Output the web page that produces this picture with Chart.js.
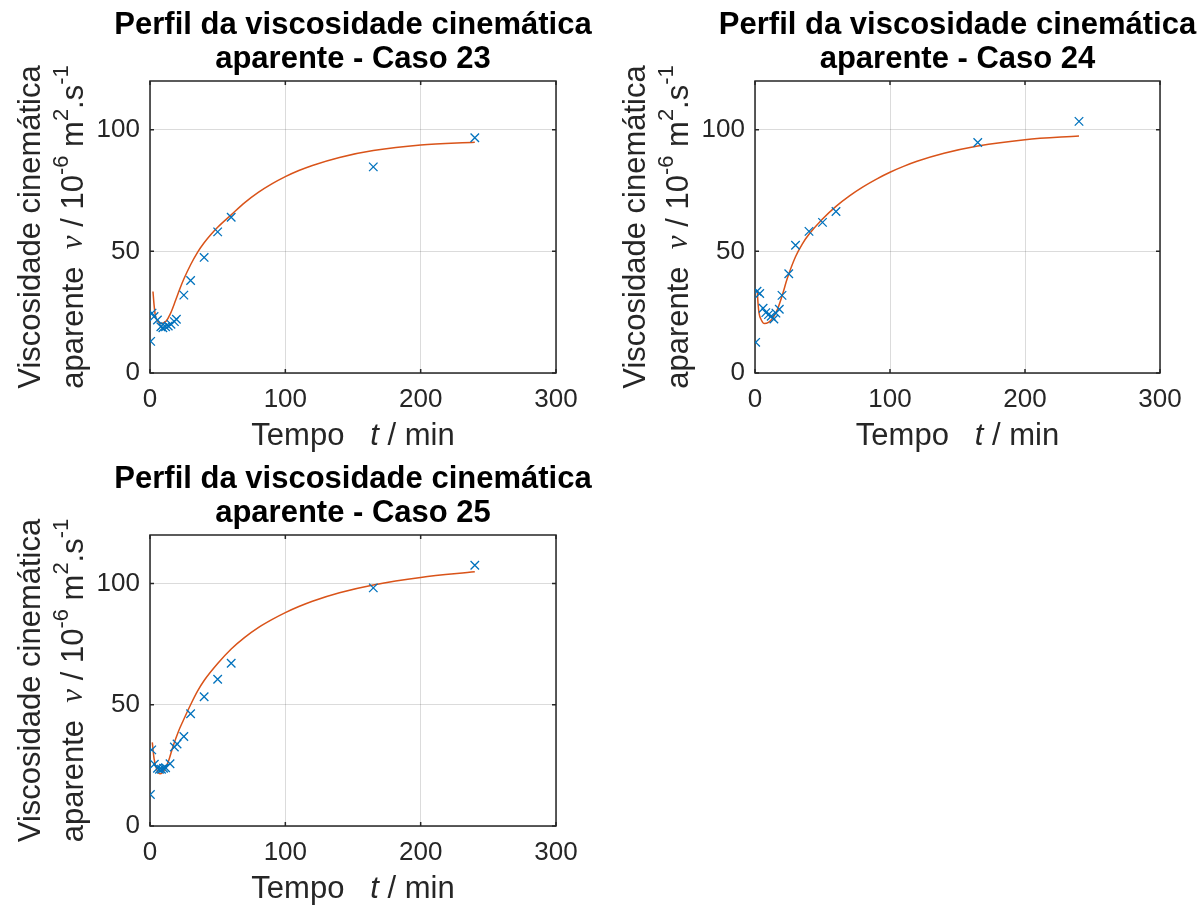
<!DOCTYPE html>
<html>
<head>
<meta charset="utf-8">
<script src="https://cdn.jsdelivr.net/npm/chart.js@4.4.0/dist/chart.umd.min.js"></script>
<style>
  body { margin: 0; background: #fff; width: 1204px; height: 905px; overflow: hidden; position: relative; }
  .box { position: absolute; }
</style>
</head>
<body>
<div class="box" style="left:0;top:0"><canvas id="c23" width="600" height="455"></canvas></div>
<div class="box" style="left:605px;top:0"><canvas id="c24" width="599" height="455"></canvas></div>
<div class="box" style="left:0;top:455px"><canvas id="c25" width="600" height="450"></canvas></div>
<script>
// eixos
const xTicks = [0, 100, 200, 300];
const yTicks = [0, 50, 100];

// Caso 23 - pontos experimentais
const t23 = [0.5, 1.5, 3, 5.5, 8, 9.5, 11.5, 13.5, 15.5, 18, 19.5, 25, 30, 40, 50, 60, 165, 240];
const v23 = [13, 24.6, 23.2, 21.8, 19, 18.6, 19, 19.3, 20, 21.1, 22.1, 32, 38, 47.5, 58, 64, 84.7, 96.7];
// Caso 23 - curva ajustada
const fitT23 = [2.2, 3, 4, 6, 8, 10, 12, 15, 19, 22, 25, 30, 35, 40, 45, 50, 60, 70, 80, 90, 100, 110, 120, 140, 165, 200, 240];
const fitV23 = [33.5, 28, 23.5, 21.1, 20.3, 20.6, 21.4, 24.3, 30, 34.5, 38.6, 44.5, 49.5, 53.5, 56.9, 59.9, 65, 70, 74.2, 77.7, 80.7, 83.2, 85.3, 88.6, 91.4, 93.7, 94.8];

// Caso 24
const t24 = [0.5, 1.5, 3.5, 6, 8, 10, 12, 14, 15.5, 18, 20, 25, 30, 40, 50, 60, 165, 240];
const v24 = [12.6, 33.6, 32.7, 26.6, 24.8, 24, 23.3, 22.2, 24.6, 26.2, 31.9, 40.8, 52.5, 58.2, 61.9, 66.4, 94.7, 103.4];
const fitT24 = [1.7, 2.2, 3, 4.5, 7, 10, 13, 16.5, 20, 24, 30, 35, 40, 50, 60, 70, 80, 90, 100, 110, 120, 140, 165, 200, 240];
const fitV24 = [34, 29, 24.6, 22, 20.3, 20.8, 22.4, 26, 31.6, 39, 47.8, 53, 57, 63.3, 68.5, 72.8, 76.5, 79.7, 82.5, 84.9, 87, 90.3, 93.3, 95.9, 97.4];

// Caso 25
const t25 = [0.3, 1.3, 3.2, 5.5, 7, 8.5, 10, 11.5, 14.8, 18, 20, 25, 30, 40, 50, 60, 165, 240];
const v25 = [13, 31.4, 25.5, 23.8, 23.4, 23.4, 23.8, 24, 25.7, 32.6, 33.8, 36.9, 46.3, 53.3, 60.5, 67.1, 98.2, 107.5];
const fitT25 = [1.7, 3, 5, 7.5, 10, 13.5, 17, 21, 24, 30, 35, 40, 50, 60, 70, 80, 90, 100, 110, 120, 140, 165, 200, 240];
const fitV25 = [34.5, 27.8, 23.3, 21.5, 22.6, 26.5, 32.8, 39, 42.8, 50, 55.5, 60, 67, 73, 77.8, 81.8, 85.1, 88, 90.5, 92.7, 96.2, 99.4, 102.5, 104.8];

const FONT = '"Liberation Sans", Arial, sans-serif';
const TXT = '#262626';

// escreve texto com partes em fontes diferentes (italico, expoentes)
function drawRuns(ctx, runs, cx, cy, angle) {
    ctx.save();
    ctx.translate(cx, cy);
    ctx.rotate(angle);
    ctx.textBaseline = 'middle';
    ctx.fillStyle = TXT;
    let total = 0;
    runs.forEach(r => { ctx.font = r.font; r.w = ctx.measureText(r.text).width; total += r.w; });
    let xx = -total / 2;
    runs.forEach(r => { ctx.font = r.font; ctx.fillText(r.text, xx, r.dy || 0); xx += r.w; });
    ctx.restore();
}

const matlabAxes = {
    id: 'matlabAxes',
    beforeDatasetsDraw(chart) {
        const { ctx, chartArea: a, scales: { x, y } } = chart;
        ctx.save();
        ctx.strokeStyle = TXT;
        ctx.lineWidth = 1.5;
        ctx.strokeRect(a.left, a.top, a.right - a.left, a.bottom - a.top);
        ctx.beginPath();
        xTicks.forEach(v => {
            const px = x.getPixelForValue(v);
            ctx.moveTo(px, a.bottom); ctx.lineTo(px, a.bottom - 4);
            ctx.moveTo(px, a.top); ctx.lineTo(px, a.top + 4);
        });
        yTicks.forEach(v => {
            const py = y.getPixelForValue(v);
            ctx.moveTo(a.left, py); ctx.lineTo(a.left + 4, py);
            ctx.moveTo(a.right, py); ctx.lineTo(a.right - 4, py);
        });
        ctx.stroke();
        ctx.restore();
    },
    afterDraw(chart, args, opts) {
        const { ctx, chartArea: a } = chart;
        const cx = (a.left + a.right) / 2;
        const cy = (a.top + a.bottom) / 2;
        // titulo
        ctx.save();
        ctx.fillStyle = '#000';
        ctx.font = 'bold 31px ' + FONT;
        ctx.textAlign = 'center';
        ctx.textBaseline = 'middle';
        ctx.fillText('Perfil da viscosidade cinemática', cx, a.top - 56);
        ctx.fillText('aparente - Caso ' + opts.caso, cx, a.top - 22);
        ctx.restore();

        const N = '31px ' + FONT;
        const I = 'italic 31px "Liberation Serif", serif';
        const S = '22px ' + FONT;
        // eixo x
        drawRuns(ctx, [
            { text: 'Tempo   ', font: N },
            { text: 't', font: 'italic 31px ' + FONT },
            { text: ' / min', font: N }
        ], cx, a.bottom + 63, 0);
        // eixo y
        drawRuns(ctx, [{ text: 'Viscosidade cinemática', font: N }], 31, cy, -Math.PI / 2);
        drawRuns(ctx, [
            { text: 'aparente  ', font: N },
            { text: 'ν', font: I },
            { text: ' / 10', font: N },
            { text: '-6', font: S, dy: -12 },
            { text: ' m', font: N },
            { text: '2', font: S, dy: -12 },
            { text: '.s', font: N },
            { text: '-1', font: S, dy: -12 }
        ], 74, cy, -Math.PI / 2);
    }
};

function renderChart(canvasId, caso, t, v, fitT, fitV, padTop, xHeight) {
    const ctx = document.getElementById(canvasId).getContext('2d');
    return new Chart(ctx, {
        type: 'scatter',
        data: {
            datasets: [
                {
                    label: 'experimental',
                    data: t.map((ti, i) => ({ x: ti, y: v[i] })),
                    pointStyle: 'crossRot',
                    pointRadius: 6,
                    pointBorderWidth: 1.3,
                    borderColor: '#0072BD',
                    backgroundColor: '#0072BD',
                    order: 1
                },
                {
                    label: 'ajuste',
                    data: fitT.map((ti, i) => ({ x: ti, y: fitV[i] })),
                    showLine: true,
                    pointRadius: 0,
                    borderColor: '#D95319',
                    borderWidth: 1.5,
                    cubicInterpolationMode: 'monotone',
                    order: 2
                }
            ]
        },
        options: {
            responsive: false,
            animation: false,
            layout: { padding: { left: 0, right: 44, top: padTop, bottom: 0 } },
            scales: {
                x: {
                    type: 'linear', min: 0, max: 300,
                    afterBuildTicks: s => { s.ticks = xTicks.map(val => ({ value: val })); },
                    afterFit: s => { s.height = xHeight; },
                    grid: { color: 'rgba(0,0,0,0.14)', drawTicks: false },
                    border: { display: false },
                    ticks: { color: TXT, font: { family: FONT, size: 26 }, padding: 11, maxRotation: 0 }
                },
                y: {
                    type: 'linear', min: 0, max: 120,
                    afterBuildTicks: s => { s.ticks = yTicks.map(val => ({ value: val })); },
                    afterFit: s => { s.width = 150; },
                    grid: { color: 'rgba(0,0,0,0.14)', drawTicks: false },
                    border: { display: false },
                    ticks: { color: TXT, font: { family: FONT, size: 26 }, padding: 10 }
                }
            },
            plugins: {
                legend: { display: false },
                tooltip: { enabled: false },
                matlabAxes: { caso: caso }
            }
        },
        plugins: [matlabAxes]
    });
}

renderChart('c23', '23', t23, v23, fitT23, fitV23, 81, 82);
renderChart('c24', '24', t24, v24, fitT24, fitV24, 81, 82);
renderChart('c25', '25', t25, v25, fitT25, fitV25, 80, 79);
</script>
</body>
</html>
